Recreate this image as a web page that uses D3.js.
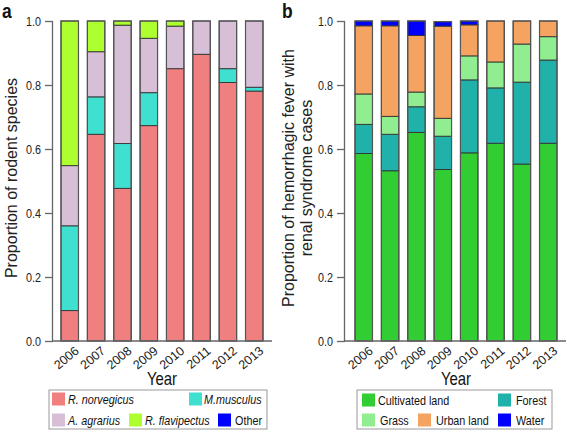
<!DOCTYPE html>
<html><head><meta charset="utf-8">
<script src="https://cdn.jsdelivr.net/npm/d3@7"></script>
<style>
body{margin:0;background:#fff;}
svg{display:block;font-family:"Liberation Sans",Arial,sans-serif;}
</style></head>
<body><svg id="c" width="567" height="432"></svg>
<script>
const years = ["2006","2007","2008","2009","2010","2011","2012","2013"];
const yTicks = [0, 0.2, 0.4, 0.6, 0.8, 1.0];

// Panel a: rodent species proportions
const speciesA = ["R. norvegicus","M.musculus","A. agrarius","R. flavipectus","Other"];
const rNorvegicus = [0.095,0.646,0.477,0.673,0.851,0.896,0.808,0.781];
const mMusculus   = [0.265,0.117,0.140,0.103,0.000,0.000,0.043,0.012];
const aAgrarius   = [0.188,0.141,0.370,0.170,0.133,0.104,0.149,0.207];
const rFlavipectus= [0.452,0.096,0.013,0.054,0.016,0.000,0.000,0.000];
const otherA      = [0,0,0,0,0,0,0,0];
const colorsA = ["#F08080","#40E0D0","#D8BFD8","#ADFF2F","#0000FF"];

// Panel b: HFRS cases by land use
const landB = ["Cultivated land","Forest","Grass","Urban land","Water"];
const cultivated = [0.586,0.532,0.652,0.536,0.588,0.618,0.553,0.618];
const forest     = [0.091,0.114,0.080,0.104,0.228,0.173,0.256,0.260];
const grass      = [0.095,0.056,0.046,0.056,0.075,0.081,0.119,0.073];
const urban      = [0.213,0.283,0.177,0.288,0.097,0.128,0.072,0.049];
const water      = [0.015,0.015,0.045,0.014,0.012,0.000,0.000,0.000];
const colorsB = ["#32CD32","#20B2AA","#90EE90","#F4A460","#0000FF"];

const SX = 0.83; // horizontal squeeze of the reference's text
const svg = d3.select("#c");

function htext(g, x, y, txt, size, opts={}){
  const t = g.append("text").attr("transform",`translate(${x},${y}) scale(${SX},1)`)
    .attr("font-size",size).attr("fill",opts.fill||"#111").text(txt);
  if(opts.anchor) t.attr("text-anchor",opts.anchor);
  if(opts.dy) t.attr("dy",opts.dy);
  if(opts.italic) t.attr("font-style","italic");
  if(opts.bold) t.attr("font-weight","bold");
  return t;
}

function panel(opt){
  const g = svg.append("g");
  const y = d3.scaleLinear().domain([0,1]).range([341,21]);
  const x = d3.scaleBand().domain(years).range([opt.b0,opt.b1]).paddingInner(0.337).paddingOuter(0);
  const rows = years.map((yr,i)=>{const o={year:yr}; opt.series.forEach((s,k)=>o[opt.keys[k]]=s[i]); return o;});
  const stack = d3.stack().keys(opt.keys)(rows);
  const bars = g.append("g");
  stack.forEach((layer,k)=>{
    bars.selectAll(null).data(layer.filter(d=>d[1]-d[0]>0)).join("rect")
      .attr("x",d=>x(d.data.year)).attr("width",x.bandwidth())
      .attr("y",d=>y(d[1])).attr("height",d=>y(d[0])-y(d[1]))
      .attr("fill",opt.colors[k]).attr("stroke","#333").attr("stroke-width",0.9);
  });
  g.append("g").selectAll("rect").data(rows).join("rect")
    .attr("x",d=>x(d.year)).attr("width",x.bandwidth())
    .attr("y",d=>y(d3.sum(opt.keys,k=>d[k]))).attr("height",d=>y(0)-y(d3.sum(opt.keys,k=>d[k])))
    .attr("fill","none").attr("stroke","#555").attr("stroke-width",1.2);
  // y axis
  const ax = g.append("g").attr("transform",`translate(${opt.ax},0)`)
    .call(d3.axisLeft(y).tickValues(yTicks).tickFormat(d3.format(".1f")).tickSize(8).tickPadding(4));
  ax.attr("font-family",null).attr("font-size",null);
  ax.select(".domain").attr("d",`M-0.5,${y(1)}V${y(0)}`).attr("stroke","#666").attr("stroke-width",1.3);
  ax.selectAll(".tick line").attr("stroke","#666").attr("stroke-width",1.3);
  ax.selectAll(".tick text").attr("font-size",13).attr("fill","#222")
    .attr("transform",`translate(-12,0) scale(${SX},1)`).attr("x",0);
  // baseline
  g.append("line").attr("x1",opt.ax).attr("x2",opt.b1+9).attr("y1",y(0)).attr("y2",y(0))
    .attr("stroke","#666").attr("stroke-width",1.3);
  // year labels
  g.selectAll("text.yr").data(years).join("text").attr("class","yr")
    .attr("transform",d=>`translate(${x(d)+x.bandwidth()/2+4},${y(0)+4}) rotate(-40)`)
    .attr("text-anchor","end").attr("dy","0.75em").attr("font-size",12.5).attr("fill","#222").text(d=>d);
  // x title
  htext(g,(opt.b0+opt.b1)/2,385,"Year",18,{anchor:"middle"});
  // y title
  opt.ytitle.forEach((t,i)=>{
    g.append("text").attr("transform",`translate(${opt.tx[i]},178) rotate(-90)`)
      .attr("text-anchor","middle").attr("font-size",16).attr("fill","#222").text(t);
  });
  // panel letter
  htext(g,opt.lx,18,opt.letter,21,{bold:true});
  // legend
  const L = opt.legend;
  g.append("rect").attr("x",L.x).attr("y",390).attr("width",L.w).attr("height",39)
    .attr("fill","#fff").attr("stroke","#999").attr("stroke-width",1);
  L.items.forEach((it)=>{
    const k = it.k;
    g.append("rect").attr("x",it.sx).attr("y",it.cy-6.5).attr("width",13).attr("height",13)
      .attr("fill",opt.colors[k]);
    htext(g,it.tx,it.cy,opt.names[k],13,{dy:"0.35em",italic:opt.italic && k<4});
  });
}

panel({
  series:[rNorvegicus,mMusculus,aAgrarius,rFlavipectus,otherA], keys:speciesA, names:speciesA,
  colors:colorsA, b0:61, b1:263, ax:53, italic:true,
  ytitle:["Proportion of rodent species"], tx:[17], lx:2, letter:"a",
  legend:{x:49,w:218,items:[
    {k:0,sx:52,tx:68,cy:399},{k:1,sx:189,tx:204,cy:399},
    {k:2,sx:52,tx:68,cy:420},{k:3,sx:129,tx:145,cy:420},{k:4,sx:218,tx:235,cy:420}]}
});
panel({
  series:[cultivated,forest,grass,urban,water], keys:landB, names:landB,
  colors:colorsB, b0:355, b1:557, ax:345, italic:false,
  ytitle:["Proportion of hemorrhagic fever with","renal syndrome cases"], tx:[294,312], lx:282, letter:"b",
  legend:{x:357,w:195,items:[
    {k:0,sx:362,tx:378,cy:400},{k:1,sx:498,tx:516,cy:400},
    {k:2,sx:362,tx:380,cy:420},{k:3,sx:418,tx:436,cy:420},{k:4,sx:498,tx:516,cy:420}]}
});
</script></body></html>
